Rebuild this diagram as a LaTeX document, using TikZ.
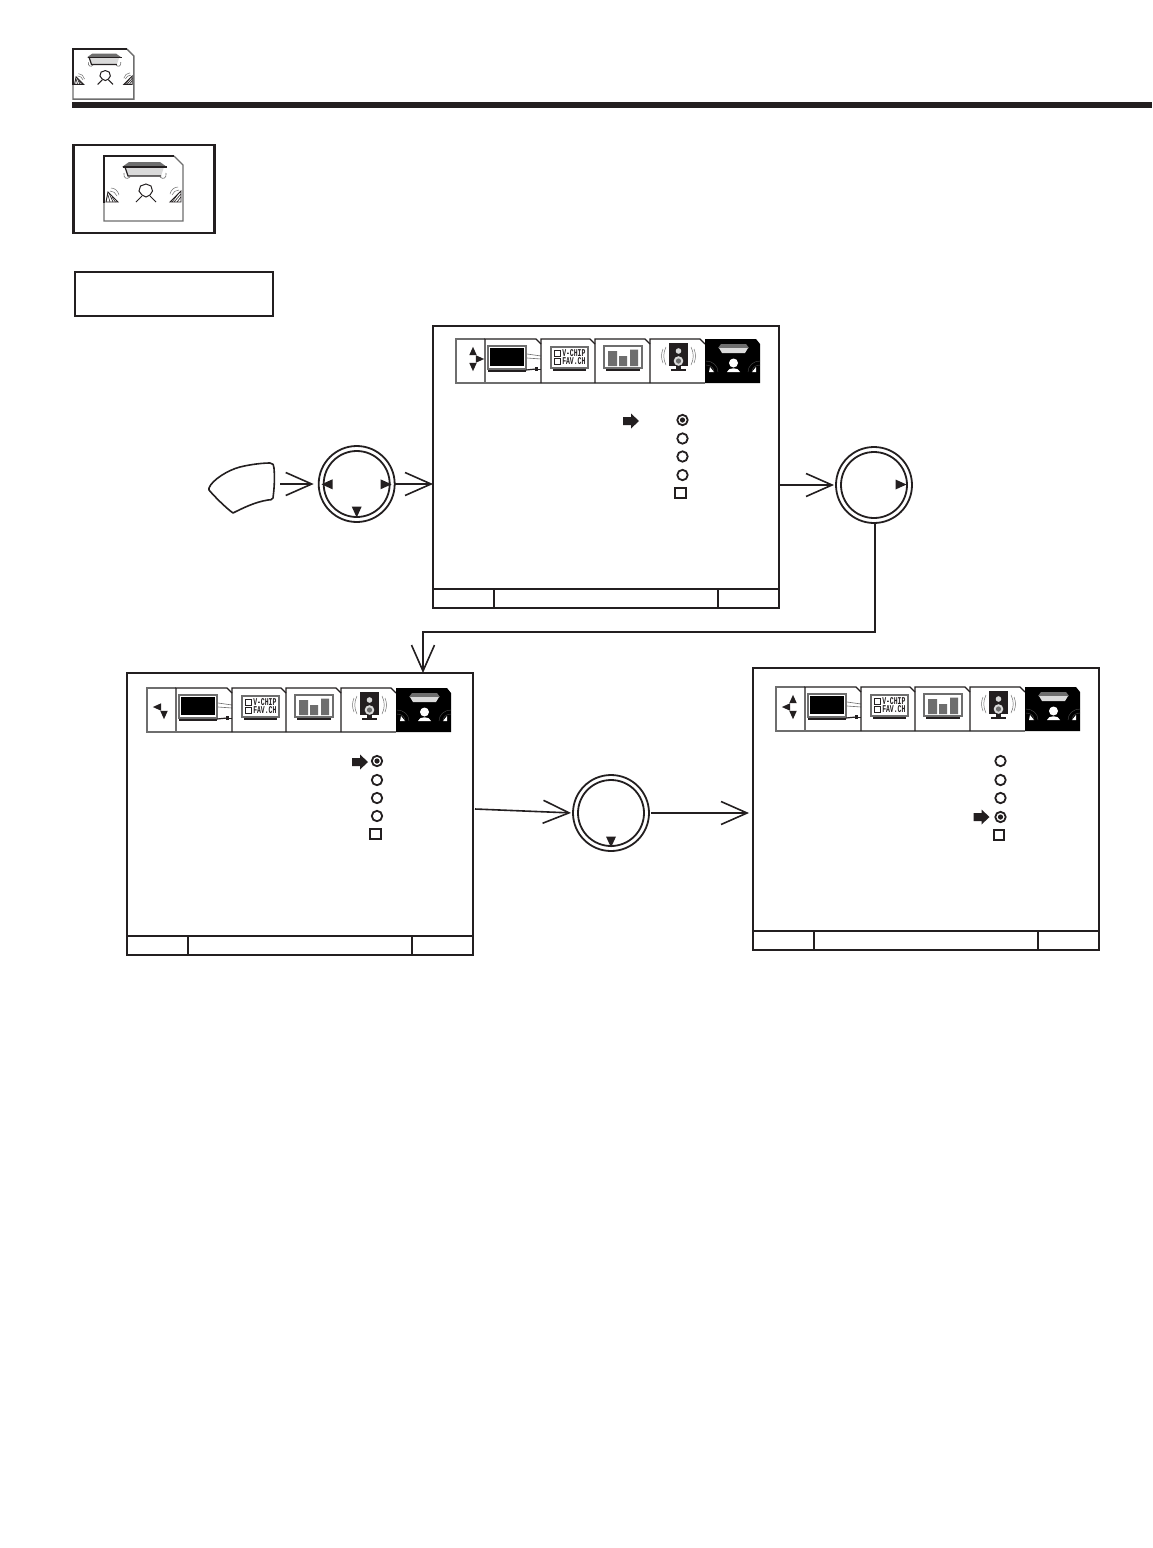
\documentclass[tikz,border=0pt]{standalone}
\usepackage{fontspec}
\setmonofont{Liberation Mono}
\usetikzlibrary{arrows.meta}
\definecolor{ink}{HTML}{231F20}
\definecolor{mid}{HTML}{6E6E6E}
\definecolor{pale}{HTML}{DADADA}
\tikzset{
  every picture/.style={x=0.5pt,y=-0.5pt},
  thickbox/.style={draw=ink,line width=1.1pt,inner sep=0pt,outer sep=0pt,rectangle},
  screenbox/.style={draw=ink,line width=0.9pt,inner sep=0pt,outer sep=0pt,rectangle,anchor=north west,minimum width=173pt,minimum height=141pt},
  ringout/.style={circle,draw=ink,line width=0.9pt,minimum size=38pt,inner sep=0pt,outer sep=0pt},
  ringin/.style={circle,draw=ink,line width=0.9pt,minimum size=33pt,inner sep=0pt,outer sep=0pt},
  conn/.style={draw=ink,line width=0.8pt,-{Straight Barb[length=13pt,width=11.5pt,line width=0.8pt]}},
  radio/.style={circle,draw=ink,line width=0.9pt,minimum size=5.2pt,inner sep=0pt,outer sep=0pt},
  radiosel/.style={radio,path picture={\fill[ink] (path picture bounding box.center) circle (1.3pt);}},
  check/.style={rectangle,draw=ink,line width=0.9pt,minimum size=5.2pt,inner sep=0pt,outer sep=0pt},
  tabedge/.style={draw=ink,line width=0.6pt},
  softedge/.style={draw=mid,line width=0.6pt},
  arcline/.style={draw=mid,line width=0.25pt},
  tinylabel/.style={font=\ttfamily\bfseries\fontsize{5.2}{5.5}\selectfont,inner sep=0pt,anchor=west,text=ink,xscale=.62},
}
% filled triangle: centre x, y, direction (0 right, 90 up, 180 left, -90 down as seen)
\newcommand\tipmark[4][1]{\fill[ink,shift={(#2,#3)},rotate=#4,scale=#1] (5.5,0) -- (-5.5,-5) -- (-5.5,5) -- cycle;}
\newcommand\blockarrow[2]{\fill[ink,shift={(#1,#2)}] (-8,-4) -- (0,-4) -- (0,-7.5) -- (8,0) -- (0,7.5) -- (0,4) -- (-8,4) -- cycle;}
% room icon, local origin at its top left; size 79 x 65
\newcommand\roomicon[3]{%
\begin{scope}[shift={(#1,#2)},scale=#3]
  \draw[mid,line width=0.7pt] (70,0) -- (79,9) -- (79,65) -- (0,65) -- (0,47);
  \draw[ink,line width=0.8pt] (0,47) -- (0,0) -- (70,0);
  \fill[mid] (25,6) -- (56,6) -- (63,11) -- (18,11) -- cycle;
  \fill[pale] (21,11) -- (60,11) -- (57,20) -- (24,20) -- cycle;
  \draw[ink,line width=0.8pt] (19,11) -- (63,11);
  \draw[ink,line width=0.6pt] (21,11) -- (24,20) -- (57,20);
  \draw[mid,line width=0.3pt] (20,17) .. controls (19,22) and (23,24) .. (26,21);
  \draw[mid,line width=0.3pt] (62,17) .. controls (63,22) and (59,24) .. (56,21);
  \draw[ink,line width=0.5pt] (42,28) -- (47,30) -- (48.5,35) -- (46,39) -- (42,41) -- (38,39) -- (35,35) -- (36.5,30) -- cycle;
  \draw[ink,line width=0.5pt] (38,40) -- (32,46);
  \draw[ink,line width=0.5pt] (46,40) -- (52,46);
  \draw[ink,line width=0.45pt,fill=white] (4,36) -- (14,46) -- (2,46) -- cycle;
  \draw[ink,line width=0.3pt] (4,39) -- (6,46) (5.5,38) -- (9,46) (8,41) -- (11.5,46);
  \draw[ink,line width=0.45pt,fill=white] (77,35) -- (77,46) -- (66,46) -- cycle;
  \draw[ink,line width=0.3pt] (77,38) -- (70,46) (77,41) -- (73,46) (74,38) -- (68,46);
  \draw[mid,line width=0.25pt] (6,35) .. controls (9,35) and (12,37) .. (13,40);
  \draw[mid,line width=0.25pt] (7,32) .. controls (11,32) and (14,35) .. (15,39);
  \draw[mid,line width=0.25pt] (75,34) .. controls (72,34) and (69,36) .. (68,39);
  \draw[mid,line width=0.25pt] (74,31) .. controls (70,31) and (67,34) .. (66,38);
\end{scope}}
% menu strip, local origin at its top left; size 304 x 44; #3 = arrow marks
\newcommand\menustrip[3]{%
\begin{scope}[shift={(#1,#2)}]
  \draw[softedge] (29,0) -- (0,0) -- (0,44) -- (249,44);
  % tab 1
  \draw[tabedge] (29,32) -- (29,0) -- (80,0) -- (85,5);
  \draw[softedge] (29,32) -- (29,44);
  \draw[mid,line width=0.8pt,fill=white] (32,7) rectangle (70,30);
  \fill[black] (33.5,9) rectangle (68,27);
  \draw[ink,line width=0.7pt] (32,32) -- (70,32);
  \draw[mid,line width=0.3pt] (71,15) -- (85,17) (71,19) -- (85,20);
  \draw[ink,line width=0.6pt] (70,31) -- (80,30);
  \fill[ink] (79,28) rectangle (82,32); \draw[ink,line width=0.4pt] (82,30) -- (85,30);
  % tab 2
  \draw[tabedge] (85,44) -- (85,0) -- (134,0) -- (139,5);
  \draw[mid,line width=0.8pt,fill=white] (95,8) rectangle (132,29);
  \draw[ink,line width=0.7pt] (97,31) -- (130,31);
  \draw[ink,line width=0.4pt] (98,11) rectangle (104.5,17) (98,19) rectangle (104.5,25.5);
  \node[tinylabel] (#1vc) at (106,14) {V-CHIP};
  \node[tinylabel] (#1fc) at (106,22.5) {FAV.CH};
  % tab 3
  \draw[tabedge] (139,44) -- (139,0) -- (189,0) -- (194,5);
  \draw[mid,line width=0.8pt,fill=white] (148,7) rectangle (186,29);
  \draw[ink,line width=0.7pt] (150,31) -- (184,31);
  \fill[mid] (152,12) rectangle (161,27) (163,17) rectangle (171,27) (174,10.5) rectangle (182,27);
  % tab 4
  \draw[tabedge] (194,44) -- (194,0) -- (244,0) -- (249,5);
  \fill[ink] (213,4) rectangle (232,27);
  \fill[pale] (222.5,12) circle (2.8);
  \fill[pale] (222.5,22) circle (4.8);
  \fill[mid] (222.5,22) circle (2.6);
  \fill[ink] (220,27) rectangle (225,31);
  \fill[ink] (215,30) rectangle (230,32);
  \draw[arcline] (210,8) .. controls (207,14) and (207,20) .. (210,26);
  \draw[arcline] (207,10) .. controls (205,15) and (205,19) .. (207,24);
  \draw[arcline] (235,8) .. controls (238,14) and (238,20) .. (235,26);
  \draw[arcline] (238,10) .. controls (240,15) and (240,19) .. (238,24);
  % tab 5
  \fill[black] (249,0) -- (300,0) -- (304,5) -- (304,44) -- (249,44) -- cycle;
  \fill[mid] (265,5) -- (290,5) -- (293,9) -- (262,9) -- cycle;
  \fill[pale] (263,9) -- (292,9) -- (289,14) -- (266,14) -- cycle;
  \fill[white] (277.5,24) circle (4.5);
  \fill[white] (271,33) .. controls (272,28) and (283,28) .. (284,33) -- cycle;
  \fill[white] (254,28) -- (258,33) -- (253,33) -- cycle;
  \fill[white] (300,28) -- (300,33) -- (296,33) -- cycle;
  \begin{scope}[mid!70!black,line width=0.2pt]
  \draw (250,26) .. controls (255,26) and (258,29) .. (258,33);
  \draw (250,22) .. controls (257,22) and (262,27) .. (262,33);
  \draw (304,26) .. controls (299,26) and (296,29) .. (296,33);
  \draw (304,22) .. controls (297,22) and (292,27) .. (292,33);
  \end{scope}
  #3
\end{scope}}
\begin{document}
\begin{tikzpicture}
\useasboundingbox (0,0) rectangle (1152,1548);
\fill[white] (0,0) rectangle (1152,1548);
% header
\fill[ink] (72,102) rectangle (1152,108);
\roomicon{73}{49}{0.77}
\node[thickbox,anchor=north west,minimum width=70.5pt,minimum height=44pt] (iconbox) at (73.5,145) {};
\roomicon{104}{156}{1}
\node[draw=ink,line width=0.8pt,rectangle,inner sep=0pt,outer sep=0pt,anchor=north west,minimum width=99pt,minimum height=22pt] (blank) at (75,272) {};
% screens
\node[screenbox] (s1) at (433,326) {};
\node[screenbox] (s2) at (127,673) {};
\node[screenbox] (s3) at (753,668) {};
\draw[ink,line width=0.9pt] (433,589) -- (779,589) (494,589) -- (494,608) (718,589) -- (718,608);
\draw[ink,line width=0.9pt] (127,936) -- (473,936) (188,936) -- (188,955) (412,936) -- (412,955);
\draw[ink,line width=0.9pt] (753,931) -- (1099,931) (814,931) -- (814,950) (1038,931) -- (1038,950);
\menustrip{456}{339}{\tipmark[.75]{17}{12}{90}\tipmark[.75]{17}{28}{-90}\tipmark[.75]{24}{20}{0}}
\menustrip{147}{688}{\tipmark[.75]{10}{19}{180}\tipmark[.75]{17}{27}{-90}}
\menustrip{776}{687}{\tipmark[.75]{17}{12}{90}\tipmark[.75]{10}{20}{180}\tipmark[.75]{17}{28}{-90}}
% screen 1 items
\blockarrow{631}{421}
\node[radiosel] (a1) at (682.5,420) {};
\node[radio] (a2) at (682.5,438.5) {};
\node[radio] (a3) at (682.5,456.5) {};
\node[radio] (a4) at (682.5,475) {};
\node[check] (a5) at (680.5,493) {};
% screen 2 items
\blockarrow{360}{762}
\node[radiosel] (b1) at (377,761) {};
\node[radio] (b2) at (377,780) {};
\node[radio] (b3) at (377,798) {};
\node[radio] (b4) at (377,816) {};
\node[check] (b5) at (375.5,834) {};
% screen 3 items
\blockarrow{981.5}{817}
\node[radio] (d1) at (1000.5,761) {};
\node[radio] (d2) at (1000.5,780) {};
\node[radio] (d3) at (1000.5,798) {};
\node[radiosel] (d4) at (1000.5,817) {};
\node[check] (d5) at (999,835) {};
% remote button
\draw[ink,line width=0.8pt,line join=round] (209,488) .. controls (212,480) and (228,470) .. (240,467)
  .. controls (252,464) and (264,463) .. (270,463) .. controls (273,463) and (274,465) .. (274,468)
  .. controls (275,480) and (274,490) .. (273,498) .. controls (272,500) and (270,500) .. (268,500)
  .. controls (255,502) and (243,508) .. (233,513) .. controls (226,508) and (214,496) .. (209,490) -- cycle;
\coordinate (btn) at (280,484);
% round buttons
\node[ringout] (c1) at (356.7,484) {};
\node[ringin] (c1i) at (c1) {};
\tipmark{327}{484.3}{180}\tipmark{386}{484.3}{0}\tipmark{356.7}{512}{-90}
\node[ringout] (c2) at (874,485) {};
\node[ringin] (c2i) at (c2) {};
\tipmark{901}{484.5}{0}
\node[ringout] (c3) at (611,813) {};
\node[ringin] (c3i) at (c3) {};
\tipmark{611}{842}{-90}
% connectors
\draw[conn,shorten >=2.5pt] (btn) -- (c1.west);
\draw[conn] (c1.east) -- (s1.west |- c1.east);
\draw[conn,shorten >=1pt] (s1.east |- c2.west) -- (c2.west);
\coordinate (turnA) at (875,632);
\coordinate (turnB) at (423,632);
\draw[conn] (c2.south -| turnA) -- (turnA) -- (turnB) -- (turnB |- s2.north);
\coordinate (s2out) at (475,809);
\draw[conn,shorten >=1pt] (s2out) -- (c3.west);
\draw[conn,shorten >=2pt,shorten <=1pt] (c3.east) -- (s3.west |- c3.east);
\end{tikzpicture}
\end{document}
